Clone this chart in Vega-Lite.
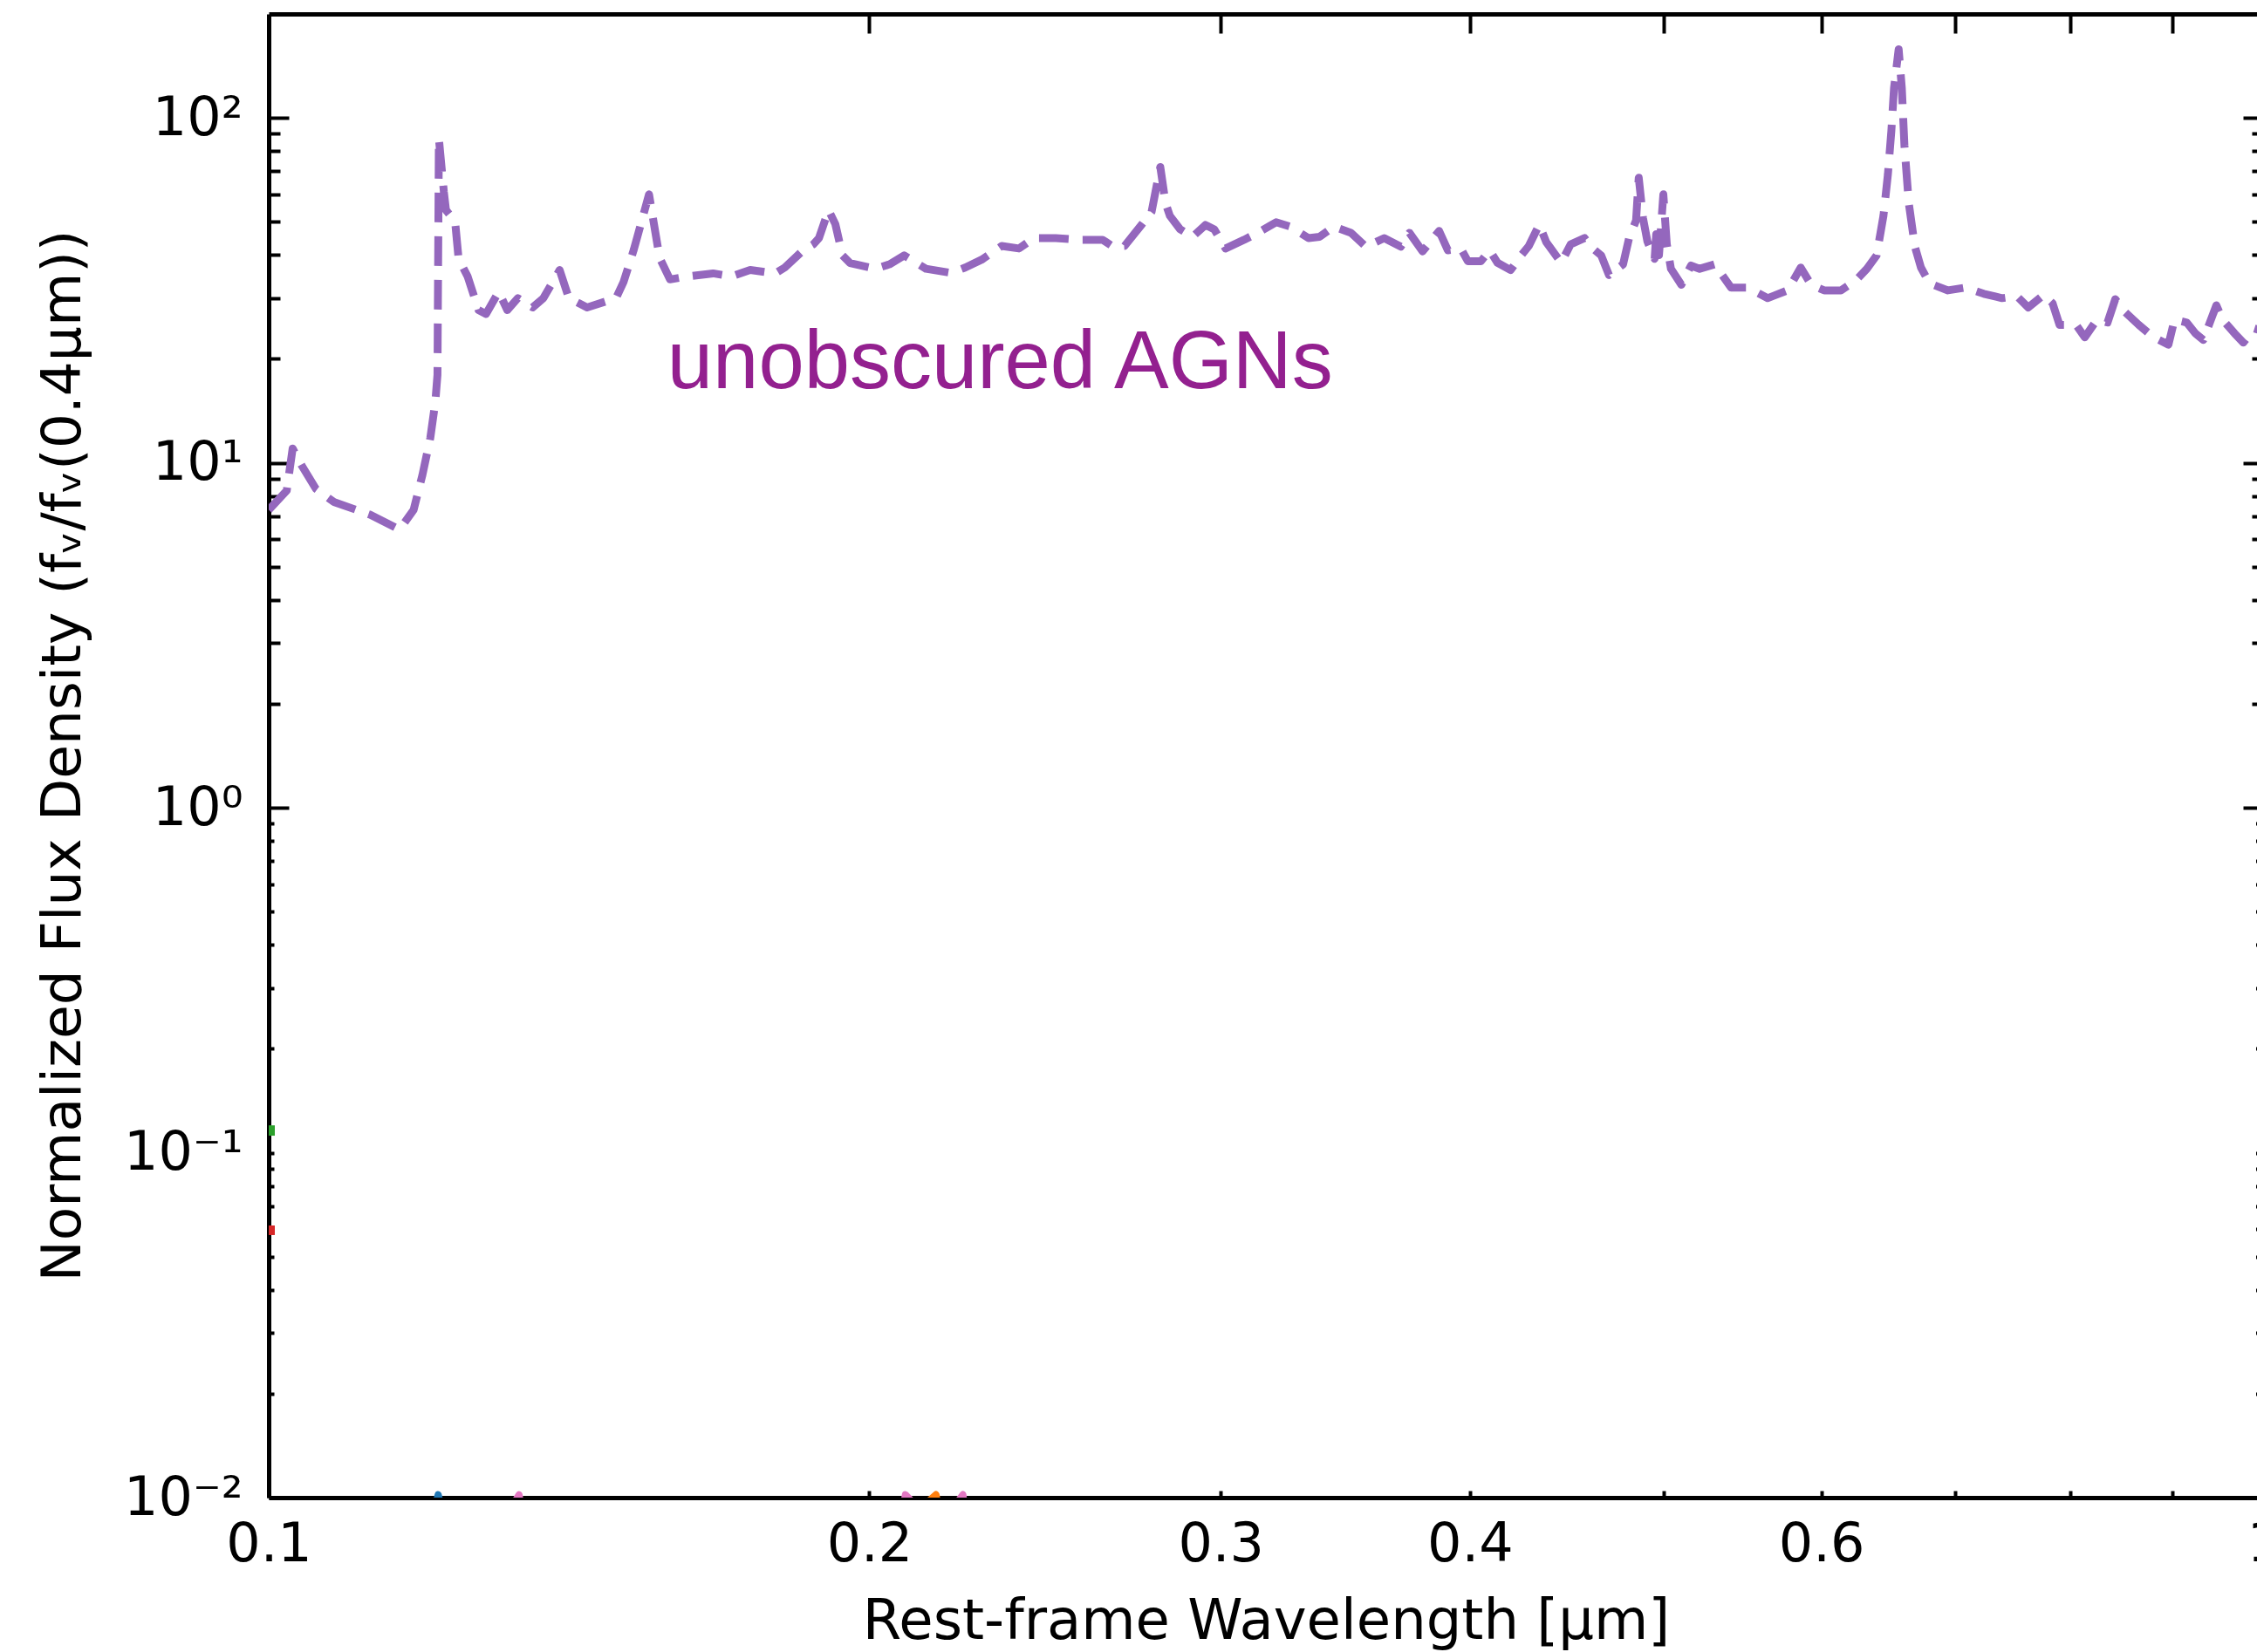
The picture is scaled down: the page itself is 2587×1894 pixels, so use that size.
{
  "$schema": "https://vega.github.io/schema/vega-lite/v6.json",
  "width": 2279,
  "height": 1701,
  "autosize": {"type": "none"},
  "padding": {"left": 308, "top": 16, "right": 0, "bottom": 177},
  "background": "white",
  "config": {
    "view": {"stroke": null},
    "axis": {
      "domainColor": "black", "domainWidth": 5, "tickColor": "black", "tickWidth": 4,
      "labelFont": "DejaVu Sans", "labelFontSize": 62, "labelColor": "black",
      "titleFont": "DejaVu Sans", "titleFontSize": 63, "titleFontWeight": "normal", "titleColor": "black",
      "grid": false, "zindex": 1, "labelOverlap": false, "labelFlush": false
    }
  },
  "datasets": {
    "agn": [
      {"wl":0.1,"flux":7.3},{"wl":0.1021,"flux":8.3},{"wl":0.1028,"flux":11.0},{"wl":0.1039,"flux":9.8},
      {"wl":0.1056,"flux":8.4},{"wl":0.1078,"flux":7.7},{"wl":0.1124,"flux":7.07},{"wl":0.1163,"flux":6.4},
      {"wl":0.1182,"flux":7.3},{"wl":0.1194,"flux":9.2},{"wl":0.1205,"flux":11.8},{"wl":0.1212,"flux":15.0},
      {"wl":0.1215,"flux":18.0},{"wl":0.1217,"flux":87},{"wl":0.1224,"flux":61},{"wl":0.1227,"flux":54},
      {"wl":0.124,"flux":50},{"wl":0.1245,"flux":39},{"wl":0.1258,"flux":34.7},{"wl":0.1274,"flux":27.7},
      {"wl":0.1285,"flux":27},{"wl":0.1304,"flux":31.3},{"wl":0.1317,"flux":27.7},{"wl":0.1333,"flux":30},
      {"wl":0.1356,"flux":28.2},{"wl":0.1373,"flux":30},{"wl":0.1399,"flux":36.2},{"wl":0.1414,"flux":30},
      {"wl":0.1444,"flux":28.2},{"wl":0.1493,"flux":30},{"wl":0.1506,"flux":33.4},{"wl":0.1524,"flux":41.5},
      {"wl":0.1551,"flux":60},{"wl":0.156,"flux":49},{"wl":0.157,"flux":39.3},{"wl":0.1589,"flux":34},
      {"wl":0.1622,"flux":34.7},{"wl":0.167,"flux":35.4},{"wl":0.1706,"flux":34.7},{"wl":0.1743,"flux":36.2},
      {"wl":0.1794,"flux":35.4},{"wl":0.1814,"flux":36.8},{"wl":0.1853,"flux":41.3},{"wl":0.1875,"flux":43},
      {"wl":0.1887,"flux":44.8},{"wl":0.1908,"flux":54},{"wl":0.1923,"flux":49.2},{"wl":0.1939,"flux":39.9},
      {"wl":0.1956,"flux":37.9},{"wl":0.2014,"flux":36.5},{"wl":0.2047,"flux":37.6},{"wl":0.2082,"flux":39.9},
      {"wl":0.2135,"flux":36.5},{"wl":0.2198,"flux":35.5},{"wl":0.2234,"flux":36.8},{"wl":0.2277,"flux":38.8},
      {"wl":0.233,"flux":42.5},{"wl":0.2377,"flux":41.8},{"wl":0.2418,"flux":44.8},{"wl":0.248,"flux":44.8},
      {"wl":0.2553,"flux":44.3},{"wl":0.2618,"flux":44.3},{"wl":0.265,"flux":42.3},{"wl":0.2685,"flux":42.5},
      {"wl":0.274,"flux":49.2},{"wl":0.277,"flux":53.4},{"wl":0.2798,"flux":72},{"wl":0.2815,"flux":56.6},
      {"wl":0.2829,"flux":52},{"wl":0.2863,"flux":47.5},{"wl":0.2904,"flux":45.2},{"wl":0.2948,"flux":48.9},
      {"wl":0.2978,"flux":47.5},{"wl":0.3017,"flux":41.8},{"wl":0.3082,"flux":44.3},{"wl":0.3131,"flux":46.4},
      {"wl":0.3198,"flux":49.8},{"wl":0.325,"flux":48.4},{"wl":0.332,"flux":44.8},{"wl":0.3363,"flux":45.2},
      {"wl":0.3418,"flux":48.4},{"wl":0.3487,"flux":46.4},{"wl":0.3547,"flux":42.3},{"wl":0.3623,"flux":44.8},
      {"wl":0.3693,"flux":42.3},{"wl":0.373,"flux":46.4},{"wl":0.3787,"flux":41},{"wl":0.386,"flux":47},
      {"wl":0.3899,"flux":41.3},{"wl":0.3958,"flux":41.8},{"wl":0.399,"flux":38.4},{"wl":0.4051,"flux":38.4},
      {"wl":0.4092,"flux":41.3},{"wl":0.4129,"flux":38},{"wl":0.4192,"flux":36.2},{"wl":0.4243,"flux":39.9},
      {"wl":0.4281,"flux":42.5},{"wl":0.4333,"flux":49},{"wl":0.4368,"flux":43.6},{"wl":0.4444,"flux":38},
      {"wl":0.4493,"flux":43},{"wl":0.4566,"flux":44.8},{"wl":0.4598,"flux":42.3},{"wl":0.4654,"flux":39.9},
      {"wl":0.4696,"flux":35},{"wl":0.4773,"flux":37.6},{"wl":0.4806,"flux":44.8},{"wl":0.4845,"flux":50.4},
      {"wl":0.486,"flux":67},{"wl":0.4884,"flux":51.2},{"wl":0.4909,"flux":43.8},{"wl":0.495,"flux":39},
      {"wl":0.4959,"flux":46},{"wl":0.4975,"flux":40},{"wl":0.5,"flux":60},{"wl":0.502,"flux":43},
      {"wl":0.5044,"flux":36.5},{"wl":0.5105,"flux":32.8},{"wl":0.5162,"flux":37.3},{"wl":0.5214,"flux":36.5},
      {"wl":0.5304,"flux":37.6},{"wl":0.5406,"flux":32.2},{"wl":0.5511,"flux":32.2},{"wl":0.5639,"flux":30},
      {"wl":0.5771,"flux":31.6},{"wl":0.5859,"flux":36.8},{"wl":0.593,"flux":32.8},{"wl":0.602,"flux":31.6},
      {"wl":0.6137,"flux":31.6},{"wl":0.6242,"flux":33.7},{"wl":0.6324,"flux":36.5},{"wl":0.6395,"flux":39.9},
      {"wl":0.6446,"flux":52},{"wl":0.6479,"flux":68.5},{"wl":0.6505,"flux":91.6},{"wl":0.6525,"flux":122},
      {"wl":0.656,"flux":158},{"wl":0.6584,"flux":122},{"wl":0.6604,"flux":83},{"wl":0.6637,"flux":56.6},
      {"wl":0.6684,"flux":42.3},{"wl":0.6731,"flux":36.8},{"wl":0.6799,"flux":33.1},{"wl":0.6944,"flux":31.6},
      {"wl":0.7085,"flux":32.2},{"wl":0.7237,"flux":30.9},{"wl":0.7391,"flux":30},{"wl":0.7519,"flux":30.4},
      {"wl":0.7618,"flux":28.2},{"wl":0.7757,"flux":30.7},{"wl":0.7835,"flux":29},{"wl":0.7898,"flux":25.1},
      {"wl":0.8051,"flux":25.1},{"wl":0.8132,"flux":23.1},{"wl":0.8247,"flux":26},{"wl":0.8348,"flux":25.5},
      {"wl":0.8423,"flux":29.8},{"wl":0.8509,"flux":27.5},{"wl":0.8655,"flux":25.1},{"wl":0.8804,"flux":23.1},
      {"wl":0.8956,"flux":22},{"wl":0.9019,"flux":26},{"wl":0.9147,"flux":25.5},{"wl":0.9239,"flux":23.7},
      {"wl":0.9324,"flux":22.7},{"wl":0.9465,"flux":28.6},{"wl":0.9532,"flux":26},{"wl":0.9667,"flux":23.7},
      {"wl":0.9765,"flux":22.3},{"wl":0.989,"flux":24.5},{"wl":1.0,"flux":24}
    ],
    "frag": [
      {"series":"b1","wl":0.1212,"flux":0.0095},{"series":"b1","wl":0.1216,"flux":0.0102},{"series":"b1","wl":0.122,"flux":0.0095},
      {"series":"p1","wl":0.1325,"flux":0.0095},{"series":"p1","wl":0.1335,"flux":0.0102},{"series":"p1","wl":0.1338,"flux":0.0095},
      {"series":"p2","wl":0.208,"flux":0.0095},{"series":"p2","wl":0.2085,"flux":0.0102},{"series":"p2","wl":0.211,"flux":0.0095},
      {"series":"o1","wl":0.213,"flux":0.0095},{"series":"o1","wl":0.216,"flux":0.0102},{"series":"o1","wl":0.2165,"flux":0.0095},
      {"series":"p3","wl":0.2208,"flux":0.0095},{"series":"p3","wl":0.2228,"flux":0.0102},{"series":"p3","wl":0.2232,"flux":0.0095},
      {"series":"g1","wl":0.1003,"flux":0.12},{"series":"g1","wl":0.1003,"flux":0.112},
      {"series":"r1","wl":0.1003,"flux":0.0615},{"series":"r1","wl":0.1003,"flux":0.0577}
    ],
    "lbl": [
      {"wl":0.1584,"flux":16.45,"label":"unobscured AGNs"}
    ]
  },
  "layer": [
    {
      "data": {"name": "frag"},
      "mark": {"type": "line", "clip": true, "strokeWidth": 8, "strokeJoin": "round"},
      "encoding": {
        "x": {"field": "wl", "type": "quantitative", "scale": {"type": "log", "domain": [0.1, 1], "range": [0, 2287], "nice": false}, "axis": null},
        "y": {"field": "flux", "type": "quantitative", "scale": {"type": "log", "domain": [0.01, 200], "nice": false}, "axis": null},
        "color": {"field": "series", "type": "nominal", "legend": null,
          "scale": {"domain": ["b1","p1","p2","o1","p3","g1","r1"], "range": ["#1f77b4","#e377c2","#e377c2","#ff7f0e","#e377c2","#2ca02c","#d62728"]}}
      }
    },
    {
      "data": {"name": "agn"},
      "mark": {"type": "line", "clip": true, "color": "#9467bd", "strokeWidth": 9, "strokeDash": [34, 16], "strokeJoin": "round", "strokeCap": "butt"},
      "encoding": {
        "x": {"field": "wl", "type": "quantitative",
          "scale": {"type": "log", "domain": [0.1, 1], "range": [0, 2287], "nice": false},
          "axis": {
            "orient": "bottom",
            "values": [0.1,0.2,0.3,0.4,0.5,0.6,0.7,0.8,0.9,1],
            "labelExpr": "datum.value == 0.5 || (datum.value > 0.65 && datum.value < 0.95) ? '' : (datum.value >= 0.99 ? '1' : format(datum.value, '.1f'))",
            "tickSize": -8,
            "labelPadding": 31,
            "title": "Rest-frame Wavelength [μm]",
            "titleFontSize": 64,
            "titleX": 1143, "titleY": 161, "titleBaseline": "alphabetic", "titleAlign": "center"
          }
        },
        "y": {"field": "flux", "type": "quantitative",
          "scale": {"type": "log", "domain": [0.01, 200], "nice": false},
          "axis": {
            "orient": "left",
            "values": [0.01,0.02,0.03,0.04,0.05,0.06,0.07,0.08,0.09,0.1,0.2,0.3,0.4,0.5,0.6,0.7,0.8,0.9,1,2,3,4,5,6,7,8,9,10,20,30,40,50,60,70,80,90,100],
            "labelExpr": "datum.value == 100 ? '10²' : datum.value == 10 ? '10¹' : datum.value == 1 ? '10⁰' : datum.value == 0.1 ? '10⁻¹' : datum.value == 0.01 ? '10⁻²' : ''",
            "tickSize": {"condition": [{"test": "datum.value == 100 || datum.value == 10 || datum.value == 1", "value": -23}, {"test": "datum.value > 1", "value": -13}], "value": -6},
            "labelPadding": {"condition": {"test": "datum.value >= 1", "value": 53}, "value": 36},
            "labelAlign": "right",
            "labelBaseline": "middle",
            "title": "Normalized Flux Density (fᵥ/fᵥ(0.4μm))",
            "titleX": -217, "titleY": 850, "titleAngle": -90, "titleBaseline": "alphabetic", "titleAlign": "center"
          }
        }
      }
    },
    {
      "data": {"name": "lbl"},
      "mark": {"type": "text", "align": "left", "baseline": "alphabetic", "font": "Liberation Sans", "fontSize": 94, "color": "#93208f"},
      "encoding": {
        "x": {"field": "wl", "type": "quantitative",
          "scale": {"type": "log", "domain": [0.1, 1], "range": [0, 2287], "nice": false},
          "axis": {"orient": "top", "values": [0.2,0.3,0.4,0.5,0.6,0.7,0.8,0.9,1], "labels": false, "tickSize": -22, "title": null}
        },
        "y": {"field": "flux", "type": "quantitative",
          "scale": {"type": "log", "domain": [0.01, 200], "nice": false},
          "axis": {
            "orient": "right", "domain": false, "labels": false, "title": null,
            "values": [0.01,0.02,0.03,0.04,0.05,0.06,0.07,0.08,0.09,0.1,0.2,0.3,0.4,0.5,0.6,0.7,0.8,0.9,1,2,3,4,5,6,7,8,9,10,20,30,40,50,60,70,80,90,100],
            "tickSize": {"condition": [{"test": "datum.value == 100 || datum.value == 10 || datum.value == 1", "value": -16}, {"test": "datum.value > 1", "value": -6}], "value": -1.5}
          }
        },
        "text": {"field": "label", "type": "nominal"}
      }
    }
  ],
  "resolve": {"axis": {"x": "independent", "y": "independent"}}
}
